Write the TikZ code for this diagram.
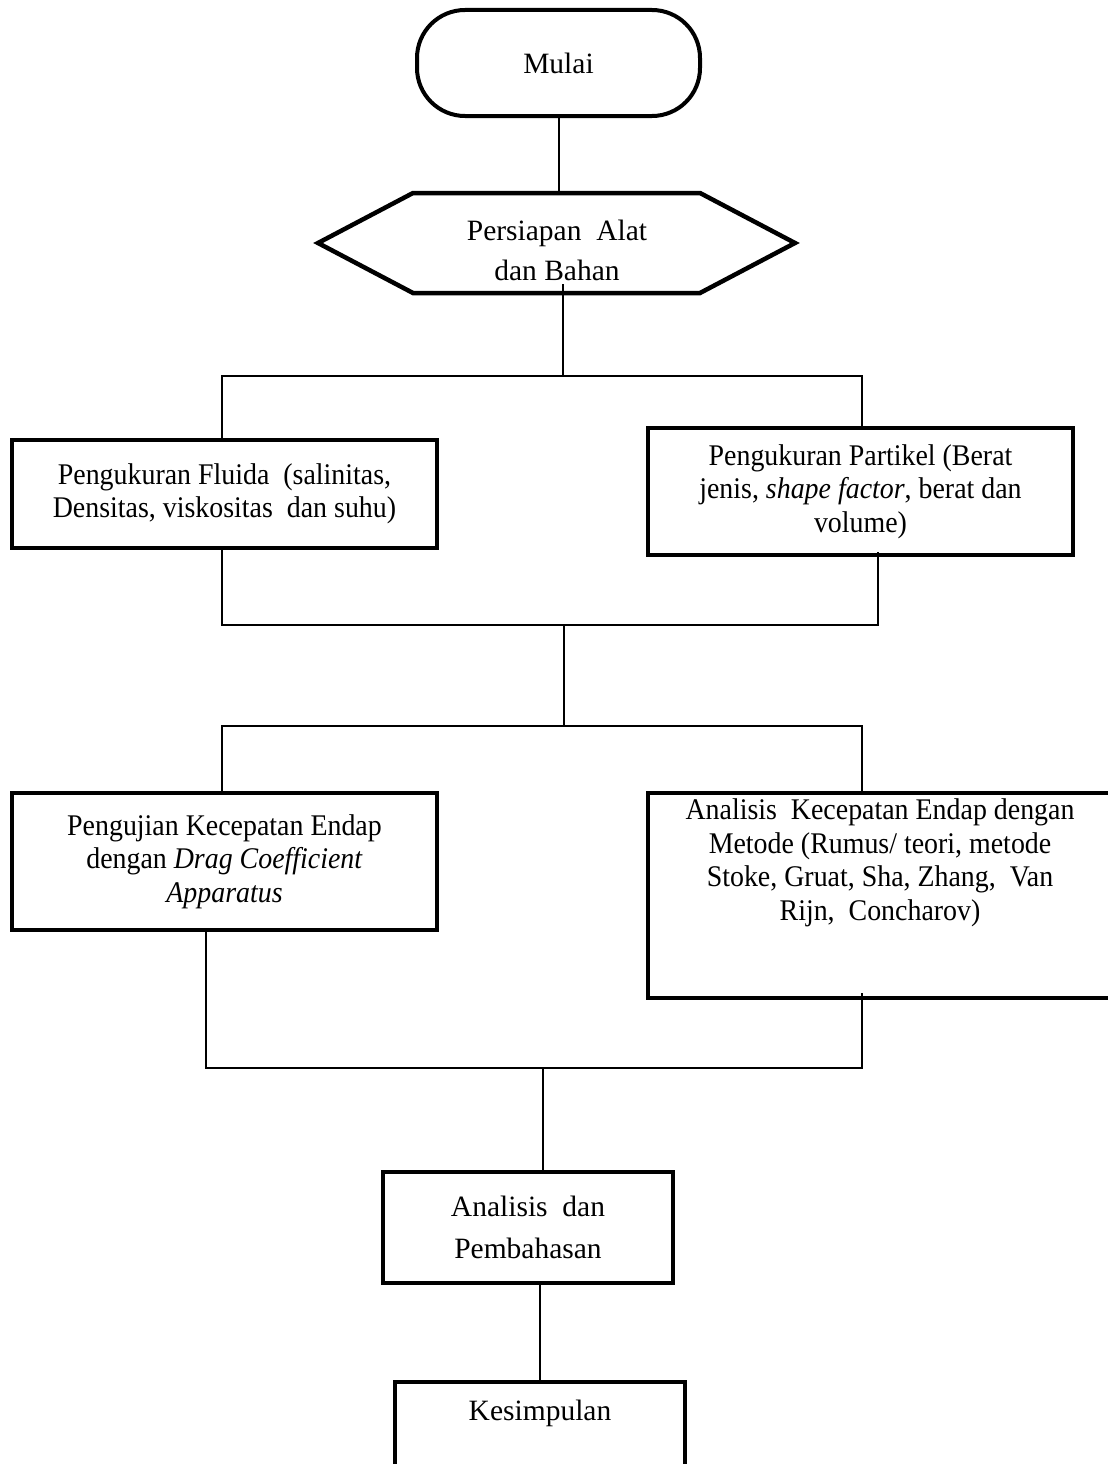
\documentclass[tikz,border=0pt]{standalone}
\usepackage{fontspec}
\setmainfont{Liberation Serif}
\newfontfamily\condserif{Liberation Serif}[FakeStretch=0.93]
\begin{document}
\begin{tikzpicture}[x=1pt,y=-1pt,
  box/.style={draw, line width=4.5pt, inner sep=0pt, outer sep=0pt, align=center,
    font=\condserif\fontsize{30}{33.5}\selectfont},
  txt/.style={inner sep=0pt, align=center, font=\condserif\fontsize{30}{33.5}\selectfont},
  plain/.style={font=\fontsize{29.5}{40}\selectfont},
  conn/.style={line width=2pt}]
\useasboundingbox (0,0) rectangle (1108,1464);

% Start terminal
\node[box, plain, line width=4pt, rounded corners=48pt, minimum width=283pt, minimum height=106pt] (mulai) at (558.5,63) {Mulai};

% Preparation hexagon
\draw[line width=4.5pt, line join=miter] (318,243) -- (413,193) -- (700,193) -- (795,243) -- (700,293) -- (413,293) -- cycle;
\node[txt, plain] (hex) at (557,250) {Persiapan\ \ Alat\\dan Bahan};
\coordinate (hext) at (558.5,193);
\coordinate (hexin) at (563,284);

% Measurement boxes
\node[box, minimum width=425pt, minimum height=108pt] (fl) at (224.5,494)
  {Pengukuran Fluida\ \ (salinitas,\\Densitas, viskositas\ \ dan suhu)};
\node[box, minimum width=425pt, minimum height=127pt] (pt) at (860.5,491.5)
  {Pengukuran Partikel (Berat\\jenis, \textit{shape factor}, berat dan\\volume)};

% Test / analysis boxes
\node[box, minimum width=425pt, minimum height=137pt] (pg) at (224.5,861.5)
  {Pengujian Kecepatan Endap\\dengan \textit{Drag Coefficient}\\\textit{Apparatus}};
\node[box, minimum width=472pt, minimum height=205pt] (an) at (884,895.5) {};
\node[txt] (antext) at (880,863)
  {Analisis\ \ Kecepatan Endap dengan\\Metode (Rumus/ teori, metode\\Stoke, Gruat, Sha, Zhang,\ \ Van\\Rijn,\ \ Concharov)};

% Discussion and conclusion
\node[box, plain, font=\fontsize{29.5}{42}\selectfont, minimum width=290pt, minimum height=111pt] (ap) at (528,1227.5)
  {Analisis\ \ dan\\Pembahasan};
\node[box, minimum width=290pt, minimum height=118pt] (kes) at (540,1441) {};
\node[txt, plain] (kestext) at (540,1413) {Kesimpulan};

% Junction coordinates
\coordinate (j1) at (563,376);
\coordinate (j1L) at (222,376);
\coordinate (j1R) at (862,376);
\coordinate (j2L) at (222,625);
\coordinate (j2R) at (878,625);
\coordinate (j2C) at (564,625);
\coordinate (j3C) at (564,726);
\coordinate (j3L) at (222,726);
\coordinate (j3R) at (862,726);
\coordinate (j4L) at (206,1068);
\coordinate (j4R) at (862,1068);
\coordinate (j4C) at (543,1068);
\coordinate (j5) at (540,1330);

% Connectors
\draw[conn] (mulai.south) -- (hext);
\draw[conn] (hexin) -- (j1);
\draw[conn] (j1L |- fl.north) -- (j1L) -- (j1R) -- (j1R |- pt.north);
\draw[conn] (j2L |- fl.south) -- (j2L) -- (j2R) -- ([yshift=3pt]j2R |- pt.south);
\draw[conn] (j2C) -- (j3C);
\draw[conn] (j3L |- pg.north) -- (j3L) -- (j3R) -- (j3R |- an.north);
\draw[conn] (j4L |- pg.south) -- (j4L) -- (j4R) -- ([yshift=5pt]j4R |- an.south);
\draw[conn] (j4C) -- (j4C |- ap.north);
\draw[conn] (j5 |- ap.south) -- (j5 |- kes.north);
\end{tikzpicture}
\end{document}
